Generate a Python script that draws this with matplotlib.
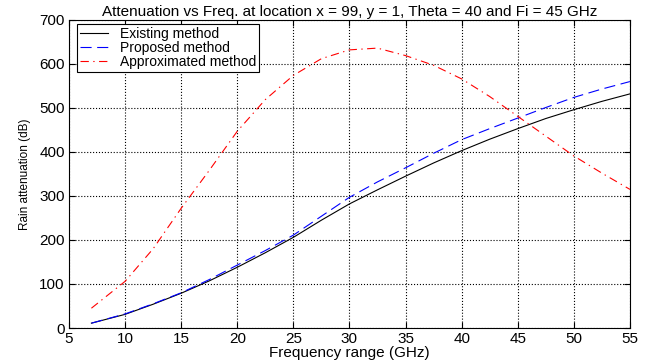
import numpy as np
import matplotlib
matplotlib.use("Agg")
import matplotlib.pyplot as plt

plt.rcParams['font.family'] = ['Liberation Sans', 'DejaVu Sans']

# values
freq = [7, 10, 12.5, 15, 17.5, 20, 22.5, 25, 27.5, 30, 32.5, 35, 37.5, 40, 42.5, 45, 47.5, 50, 52.5, 55]
existing = [11, 31, 54, 79, 107, 138, 171, 206, 245, 282, 314, 345, 375, 403, 429, 453, 476, 496, 515, 532]
proposed = [11, 32, 55, 80, 110, 143, 176, 211, 254, 297, 332, 364, 397, 428, 453, 477, 501, 524, 543, 560]
approx = [45, 106, 180, 272, 358, 447, 519, 574, 612, 632, 636, 619, 597, 566, 526, 481, 436, 391, 352, 315]

fig = plt.figure(figsize=(6.47, 3.62), dpi=100)
ax = fig.add_axes([0.1066, 0.0939, 0.867, 0.851])

ax.plot(freq, existing, color='k', lw=0.8, label='Existing method')
ax.plot(freq, proposed, color='b', lw=0.8, linestyle=(0, (10, 5)), label='Proposed method')
ax.plot(freq, approx, color='r', lw=0.8, linestyle=(0, (7.5, 4, 1.2, 4)), label='Approximated method')

ax.set_xlim(5, 55)
ax.set_ylim(0, 700)
ax.set_xticks(np.arange(5, 56, 5))
ax.set_yticks(np.arange(0, 701, 100))
ax.grid(True, color='k', linestyle=':', lw=0.8)
ax.tick_params(direction='in', labelsize=11, top=True, right=True, length=4, pad=3)
for s in ax.spines.values():
    s.set_linewidth(0.8)

ax.set_title('Attenuation vs Freq. at location x = 99, y = 1, Theta = 40 and Fi = 45 GHz', fontsize=11, pad=3)
ax.set_xlabel('Frequency range (GHz)', fontsize=11, labelpad=0)
ax.set_ylabel('Rain attenuation (dB)', fontsize=8.5, labelpad=6)

leg = ax.legend(loc='upper left', bbox_to_anchor=(0.0143, 0.987), fontsize=10, fancybox=False,
                framealpha=1, edgecolor='k', borderpad=0.2, labelspacing=0.0, handlelength=2.0,
                handletextpad=0.9, borderaxespad=0)
leg.get_frame().set_linewidth(0.8)

fig.savefig('out.png', dpi=100)
